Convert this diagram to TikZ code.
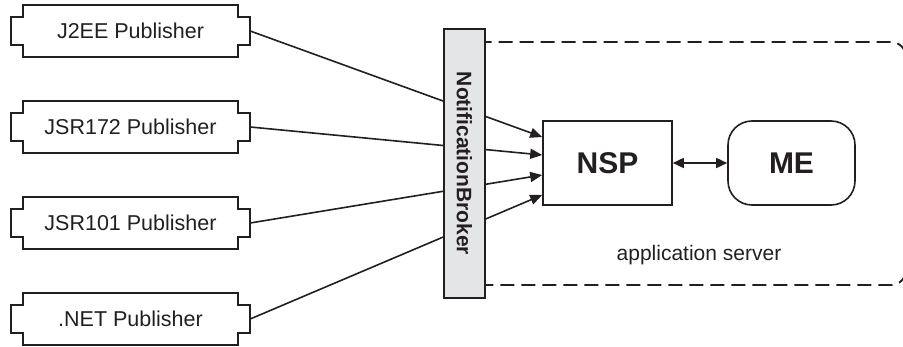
\documentclass[tikz,border=0pt]{standalone}
\usepackage{fontspec}
\setmainfont{Liberation Sans}
\usetikzlibrary{arrows.meta, positioning, calc}
\definecolor{inkblack}{RGB}{35, 31, 32}
\definecolor{brokergray}{RGB}{228, 229, 231}

\begin{document}
\begin{tikzpicture}[x=1pt, y=-1pt, >={Triangle[length=12pt, width=10pt]},
    every node/.style={text=inkblack},
    pub/.style={minimum width=239pt, minimum height=52pt, inner sep=0pt,
        font=\fontsize{21.5}{24}\selectfont},
    outline/.style={draw=inkblack, line width=1.6pt},
    comp/.style={outline, minimum height=84pt, inner sep=0pt,
        font=\fontsize{30}{34}\selectfont\bfseries},
    link/.style={draw=inkblack, line width=1.6pt}]

\clip (0,0) rectangle (903,347);
\useasboundingbox (0,0) rectangle (903,347);

% === Servidor de aplicaciones ===
\draw[draw=inkblack, line width=1.9pt, dash pattern=on 14pt off 7pt, rounded corners=15pt]
    (470,42) rectangle (906,285);
\node[font=\fontsize{21}{24}\selectfont] (appsrv) at (699,255) {application server};

% === Componentes ===
\node[comp, minimum width=129pt] (nsp) at (607.5,163) {NSP};
\node[comp, minimum width=127pt, rounded corners=24pt] (me) at (791.5,163) {ME};
\draw[link, <->, >={Triangle[length=11pt, width=10pt]}] (nsp.east) -- (me.west);

% === Publishers ===
\foreach \i/\y/\dy/\name in {
    1/31/-26/J2EE,
    2/127/-8/JSR172,
    3/223/12/JSR101,
    4/319/32/.NET} {
    \node[pub] (p\i) at (130.5,\y) {\name\ Publisher};
    \draw[outline] ($(p\i.north west)+(12,0)$) -- ($(p\i.north east)+(-12,0)$)
        -- ++(0,12) -- ++(12,0) -- ++(0,28) -- ++(-12,0)
        -- ($(p\i.south east)+(-12,0)$) -- ($(p\i.south west)+(12,0)$)
        -- ++(0,-12) -- ++(-12,0) -- ++(0,-28) -- ++(12,0) -- cycle;
    \coordinate (in\i) at ($(nsp.west)+(0,\dy)$);
    \draw[link, ->] (p\i.east) -- (in\i);
}

% === Broker (encima de las lineas) ===
\node[draw=inkblack, line width=1.6pt, fill=brokergray, minimum width=41pt,
    minimum height=269pt, inner sep=0pt] (broker) at (464.5,163.5) {};
\node[rotate=-90, font=\fontsize{21}{24}\selectfont\bfseries] (brokertxt)
    at (broker.center) {NotificationBroker};

\end{tikzpicture}
\end{document}
